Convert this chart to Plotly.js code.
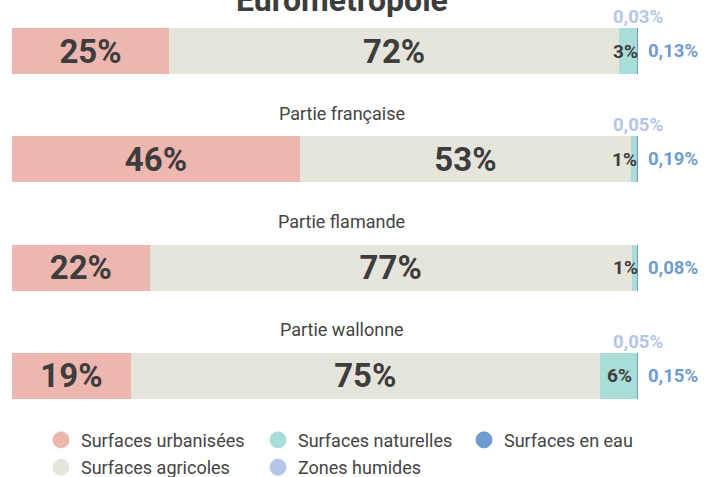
<!DOCTYPE html>
<html>
<head>
<meta charset="utf-8">
<script src="https://cdn.plot.ly/plotly-3.0.1.min.js"></script>
<style>html,body{margin:0;padding:0;background:#fff;}</style>
</head>
<body>
<div id="chart" style="width:709px;height:477px;"></div>
<script>
// ---- Data ----
const regions = ['Eurométropole', 'Partie française', 'Partie flamande', 'Partie wallonne'];
const urbanisees = [25.1, 46.0, 22.0, 19.0];
const agricoles = [71.9, 52.9, 77.0, 74.9];
const naturelles = [2.84, 0.86, 0.92, 5.9];
const humides = [0.03, 0.05, 0, 0.05];
const eau = [0.13, 0.19, 0.08, 0.15];
const seriesNames = ['Surfaces urbanisées', 'Surfaces agricoles', 'Surfaces naturelles', 'Zones humides', 'Surfaces en eau'];
const colors = ['#edb7af', '#e5e5dc', '#a8ddd8', '#b4c6e7', '#6e9bd2'];

const values = [urbanisees, agricoles, naturelles, humides, eau];
const dark = '#3d3d3d';
const fontFam = 'Roboto, "Open Sans", sans-serif';

const traces = [];
values.forEach((vals, i) => {
  const t = {
    type: 'bar', orientation: 'h',
    x: vals, y: regions, name: seriesNames[i],
    marker: {color: colors[i]},
    showlegend: false,
    hoverinfo: 'x+name'
  };
  if (i < 2) {
    t.texttemplate = '%{x:.0f}%';
    t.textposition = 'inside';
    t.insidetextanchor = 'middle';
    t.textangle = 0;
    t.constraintext = 'none';
    t.textfont = {family: fontFam, size: 33, weight: 700, color: dark};
  } else {
    t.textposition = 'none';
  }
  traces.push(t);
});

// legend-only entries (circle symbols)
const legendOf = ['legend', 'legend', 'legend2', 'legend2', 'legend3'];
seriesNames.forEach((n, i) => {
  traces.push({
    type: 'scatter', mode: 'markers', x: [null], y: [null], name: n,
    legend: legendOf[i], legendgroup: 'g' + i,
    marker: {symbol: 'circle', size: 16, color: colors[i], line: {width: 1, color: colors[i]}},
    hoverinfo: 'skip'
  });
});

const fmt2 = v => v.toFixed(2).replace('.', ',') + '%';
const annotations = [];
regions.forEach((r, k) => {
  const total = urbanisees[k] + agricoles[k] + naturelles[k] + humides[k] + eau[k];
  // region title
  annotations.push({
    xref: 'paper', yref: 'y', x: 0.527, y: r,
    text: r, showarrow: false, xanchor: 'center', yanchor: 'middle',
    yshift: k === 0 ? 51.5 : 46,
    font: k === 0 ? {family: fontFam, size: 32, weight: 700, color: dark}
                  : {family: fontFam, size: 18, color: '#444'}
  });
  // natural surfaces label
  const natEnd = urbanisees[k] + agricoles[k] + naturelles[k];
  const wide = naturelles[k] >= 4;
  annotations.push({
    xref: 'x', yref: 'y',
    x: wide ? urbanisees[k] + agricoles[k] + naturelles[k] / 2 : natEnd,
    y: r, text: Math.round(naturelles[k]) + '%', showarrow: false,
    xanchor: wide ? 'center' : 'right', xshift: wide ? 1 : 3,
    font: {family: fontFam, size: 19, weight: 700, color: dark}
  });
  // water label
  annotations.push({
    xref: 'x', yref: 'y', x: Math.min(total, 100), y: r, text: fmt2(eau[k]), showarrow: false,
    xanchor: 'left', xshift: 8,
    font: {family: fontFam, size: 18.5, weight: 700, color: colors[4]}
  });
  // wetlands label
  if (humides[k] > 0) {
    annotations.push({
      xref: 'x', yref: 'y', x: Math.min(total, 100), y: r, text: fmt2(humides[k]), showarrow: false,
      xanchor: 'center', yshift: 34,
      font: {family: fontFam, size: 18.5, weight: 700, color: colors[3]}
    });
  }
});

const legendBase = {
  orientation: 'v', xref: 'container', yref: 'container', yanchor: 'top', xanchor: 'left',
  y: 0.116, traceorder: 'grouped', tracegroupgap: 1,
  font: {family: fontFam, size: 18, color: '#444'}, bgcolor: 'rgba(0,0,0,0)'
};

const layout = {
  width: 709, height: 477,
  margin: {l: 12, r: 71, t: 0, b: 67, autoexpand: false},
  barmode: 'stack', bargap: 0.575,
  separators: ', ',
  paper_bgcolor: '#fff', plot_bgcolor: '#fff',
  font: {family: fontFam, color: '#444'},
  xaxis: {range: [0, 100.02], showgrid: false, zeroline: false, showline: false, showticklabels: false, ticks: '', fixedrange: true},
  yaxis: {type: 'category', categoryarray: regions, categoryorder: 'array', range: [3.314, -0.471],
          showgrid: false, zeroline: false, showline: false, showticklabels: false, ticks: '', fixedrange: true},
  legend: Object.assign({}, legendBase, {x: 41 / 709}),
  legend2: Object.assign({}, legendBase, {x: 258 / 709}),
  legend3: Object.assign({}, legendBase, {x: 464 / 709}),
  annotations: annotations,
  showlegend: true
};

Plotly.newPlot('chart', traces, layout, {displayModeBar: false, staticPlot: true});
</script>
</body>
</html>
